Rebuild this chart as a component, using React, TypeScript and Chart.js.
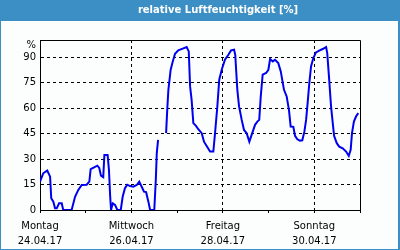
import React, { useEffect, useRef } from "react";
import { Chart, registerables } from "chart.js";

Chart.register(...registerables);

const title = "relative Luftfeuchtigkeit [%]";
const unitLabel = "%";

// time in hours since Monday 24.04.17 00:00
const hours = [
  0, 1.7, 3.8, 5.3, 5.9, 7.0, 7.9, 8.8, 10.0, 11.4,
  12.2, 16.6, 18.4, 20.1, 21.9, 24.5, 25.9, 26.6, 28.4, 30.1,
  31.1, 32.0, 33.2, 33.8, 35.5, 36.2, 36.8, 37.3, 38.2, 39.4,
  40.6, 42.4, 43.4, 44.6, 45.8, 47.3, 49.0, 50.8, 52.1, 53.4,
  54.6, 55.7, 56.9, 57.8, 60.0, 60.8, 61.3, 62.0, 64.0, 66.2,
  66.8, 67.4, 68.6, 69.7, 70.9, 72.6, 74.9, 77.0, 78.1, 78.8,
  79.6, 80.5, 81.9, 83.1, 84.9, 86.1, 87.5, 89.3, 91.0, 91.9,
  93.1, 94.1, 95.4, 97.1, 98.9, 100.3, 101.9, 102.5, 103.6, 104.5,
  105.9, 107.1, 108.5, 109.9, 111.1, 112.9, 114.1, 115.1, 115.9, 116.9,
  118.7, 119.9, 120.8, 122.2, 123.4, 125.1, 126.4, 128.1, 129.5, 130.7,
  131.6, 133.0, 133.9, 135.1, 136.5, 137.7, 138.8, 139.7, 140.5, 141.4,
  142.3, 143.5, 144.9, 146.6, 148.4, 150.2, 150.8, 151.7, 152.8, 153.7,
  154.4, 155.8, 157.1, 158.9, 160.7, 162.1, 163.1, 163.8, 164.8, 165.9, 167.1,
];

const humidity: (number | null)[] = [
  16.7, 21.6, 23.2, 19.6, 6.9, 4.9, 1, 1, 3.9, 3.9,
  0, 0, 7.8, 11.8, 14.7, 14.9, 16.7, 24, 25.1, 26.1,
  24.8, 20.2, 19.3, 32.4, 32.4, 23.6, 8.8, 0, 3.9, 3,
  0, 0, 7.8, 12.8, 14.9, 14.1, 13.7, 14.7, 16.7, 13.7,
  10.8, 10.5, 4.9, 0, 0, 17.7, 33.4, 41.2, null, 45.2,
  58.9, 70.7, 82.5, 87.4, 91.9, 93.9, 94.9, 95.9, 93.3, 72.7,
  64.8, 51.1, 49.5, 47.5, 45.2, 40.2, 37.7, 34.4, 34.4, 45.2,
  60.9, 76.6, 82.5, 88.4, 91.3, 93.9, 94.3, 91.3, 70.7, 60.9,
  53, 47.1, 45.2, 40.2, 44.2, 50.1, 52, 53, 66.8, 79.6,
  80.6, 82.5, 88.8, 87.4, 88.4, 86.4, 81.5, 70.7, 66.8, 58.9,
  49.1, 48.9, 43.6, 41.6, 40.8, 41, 46.1, 53, 62.9, 74.7,
  84.4, 89.4, 92.7, 93.7, 94.7, 95.9, 92.3, 78.6, 60.9, 51.1,
  43.6, 39.3, 37.3, 36.3, 34.4, 31.8, 35.4, 45.2, 52, 55, 57,
];

const labelHours = [0, 48, 96, 144];
const dayNames = ["Montag", "Mittwoch", "Freitag", "Sonntag"];
const dates = ["24.04.17", "26.04.17", "28.04.17", "30.04.17"];
const gridHours = [48, 96, 144];

const FONT = "'DejaVu Sans', sans-serif";
const FRAME_BLUE = "#3c8fc4";

const framePlugin = {
  id: "frame",
  beforeDraw(chart: any) {
    const { ctx, width, height } = chart;
    ctx.save();
    ctx.fillStyle = FRAME_BLUE;
    ctx.fillRect(0, 0, width, height);
    ctx.fillStyle = "#fcfefd";
    ctx.fillRect(1, 21, width - 3, height - 22);
    ctx.fillStyle = "#ffffff";
    ctx.font = "bold 10px " + FONT;
    ctx.textAlign = "center";
    ctx.textBaseline = "middle";
    ctx.fillText(title, 218, 10.5);
    ctx.restore();
  },
  afterDraw(chart: any) {
    const { ctx, chartArea } = chart;
    ctx.save();
    ctx.strokeStyle = "#000";
    ctx.lineWidth = 1;
    ctx.beginPath();
    ctx.moveTo(chartArea.left, chartArea.top + 0.5);
    ctx.lineTo(chartArea.right + 0.5, chartArea.top + 0.5);
    ctx.lineTo(chartArea.right + 0.5, chartArea.bottom);
    ctx.stroke();
    ctx.fillStyle = "#000";
    ctx.font = "10px " + FONT;
    ctx.textAlign = "right";
    ctx.textBaseline = "middle";
    ctx.fillText(unitLabel, chartArea.left - 4, chartArea.top + 5.5);
    ctx.restore();
  },
};

export default function App() {
  const ref = useRef<HTMLCanvasElement>(null);
  useEffect(() => {
    document.body.style.margin = "0";
    const canvas = ref.current!;
    const chart = new Chart(canvas, {
      type: "line",
      data: {
        datasets: [
          {
            data: hours.map((h, i) => ({ x: h, y: humidity[i] })) as any,
            borderColor: "#0000f0",
            borderWidth: 2,
            pointRadius: 0,
            tension: 0,
            spanGaps: false,
            fill: false,
          },
        ],
      },
      options: {
        responsive: false,
        animation: false,
        devicePixelRatio: 1,
        layout: { padding: { top: 40, right: 40, left: 0, bottom: 0 } },
        plugins: { legend: { display: false }, tooltip: { enabled: false }, title: { display: false } },
        scales: {
          x: {
            type: "linear",
            min: 0,
            max: 168,
            afterFit: (s: any) => { s.height = 40; },
            border: { display: true, color: "#000", width: 1, dash: [3, 3] },
            grid: {
              color: (c: any) => (gridHours.includes(c.tick?.value) ? "#000" : "rgba(0,0,0,0)"),
              tickColor: "#000",
              tickLength: 3,
              drawTicks: true,
              tickBorderDash: [],
            },
            ticks: {
              stepSize: 24,
              autoSkip: false,
              maxRotation: 0,
              padding: 6,
              color: "#000",
              font: { family: FONT, size: 10, lineHeight: 1.5 },
              callback: (v: any) => {
                const i = labelHours.indexOf(Number(v));
                return i >= 0 ? [dayNames[i], dates[i]] : "";
              },
            },
          },
          y: {
            min: 0,
            max: 100,
            afterFit: (s: any) => { s.width = 40; },
            border: { display: true, color: "#000", width: 1, dash: [3, 3] },
            grid: {
              color: (c: any) => {
                const v = c.tick?.value;
                return v === 0 || v === 100 ? "rgba(0,0,0,0)" : "#000";
              },
              drawTicks: false,
            },
            ticks: {
              stepSize: 15,
              padding: 4,
              color: "#000",
              font: { family: FONT, size: 10 },
              callback: (v: any) => (Number(v) === 100 ? "" : String(v)),
            },
          },
        },
      },
      plugins: [framePlugin],
    });
    return () => chart.destroy();
  }, []);
  return <canvas ref={ref} width={400} height={250} style={{ display: "block" }} />;
}
